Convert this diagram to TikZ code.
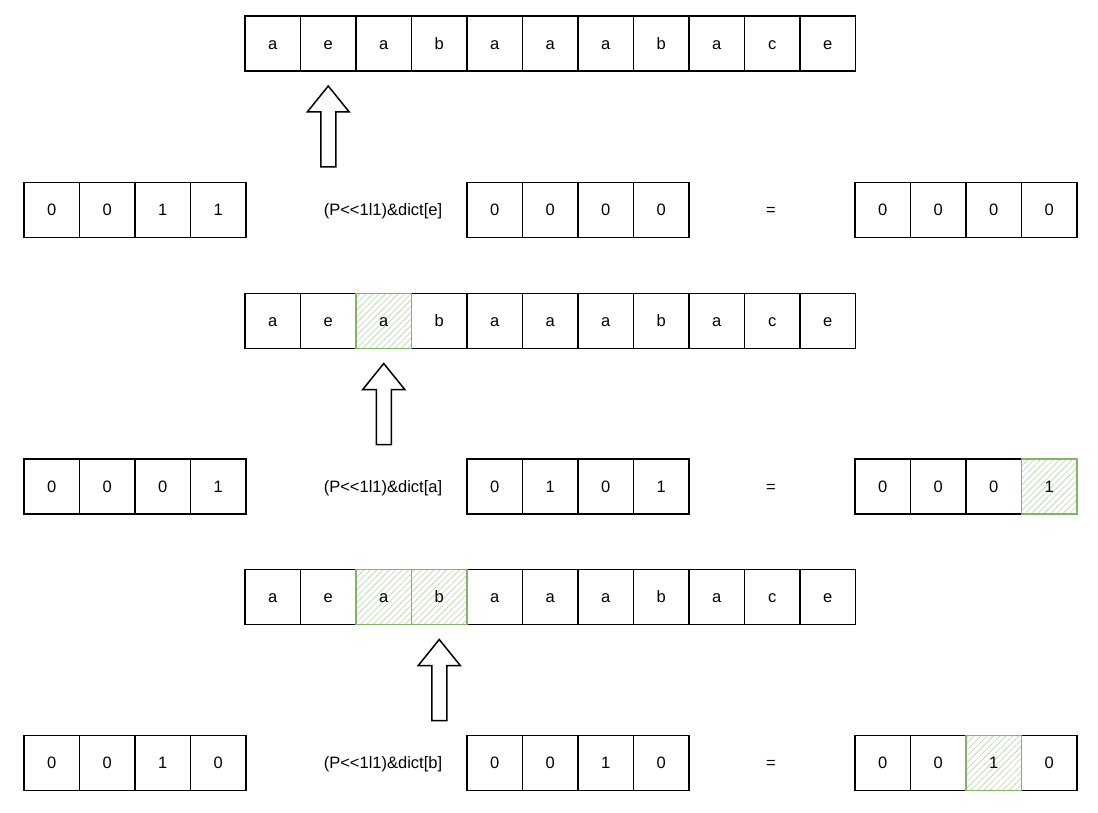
\documentclass[tikz,border=0pt]{standalone}
\usepackage{fontspec}
\setmainfont{Liberation Sans}[Ligatures=NoCommon]
\usetikzlibrary{patterns.meta,calc}
\definecolor{hlgreen}{HTML}{82B366}
\definecolor{hatchgreen}{HTML}{B5D4A5}
\tikzset{
  cell/.style={draw=black, line width=1.5pt, minimum width=55.5pt, minimum height=55pt,
    inner sep=0pt, outer sep=0pt, text height=11.8pt, text depth=0pt,
    font=\fontsize{16.5}{20}\selectfont, anchor=center},
  hlcell/.style={cell, draw=none, pattern={Lines[angle=45,distance=4.5pt,line width=0.6pt]},
    pattern color=hatchgreen},
  hlborder/.style={draw=hlgreen, line width=1.5pt},
  exprtext/.style={inner sep=0pt, text height=11.8pt, text depth=0pt, font=\fontsize{16.5}{20}\selectfont},
  blockarrow/.style={draw=black, line width=1.5pt, line join=miter, fill=white}
}
\begin{document}
\begin{tikzpicture}[x=1pt,y=-1pt]
\useasboundingbox (0,0) rectangle (1098,813);
% ---------- group 1 ----------
\foreach \ch [count=\i] in {a,e,a,b,a,a,a,b,a,c,e}
  \node[cell] (c1-\i) at ({245+55.5*(\i-0.5)},43.5) {\ch};
\foreach \b [count=\i] in {0,0,1,1}
  \node[cell] (p1-\i) at ({24+55.5*(\i-0.5)},210) {\b};
\node[exprtext] (e1) at (383,210) {(P<{}<1l1)\&dict[e]};
\foreach \b [count=\i] in {0,0,0,0}
  \node[cell] (d1-\i) at ({467+55.5*(\i-0.5)},210) {\b};
\node[exprtext] (q1) at (771,210) {=};
\foreach \b [count=\i] in {0,0,0,0}
  \node[cell] (r1-\i) at ({855+55.5*(\i-0.5)},210) {\b};
\draw[blockarrow] ($(c1-2.south)+(0,15)$) -- ++(21,26) -- ++(-13.5,0) -- ++(0,55)
  -- ++(-15,0) -- ++(0,-55) -- ++(-13.5,0) -- cycle;
% ---------- group 2 ----------
\foreach \ch/\st [count=\i] in {a/cell,e/cell,a/hlcell,b/cell,a/cell,a/cell,a/cell,b/cell,a/cell,c/cell,e/cell}
  \node[\st] (c2-\i) at ({245+55.5*(\i-0.5)},321) {\ch};
\draw[hlborder] (c2-3.south west) rectangle (c2-3.north east);
\foreach \b [count=\i] in {0,0,0,1}
  \node[cell] (p2-\i) at ({24+55.5*(\i-0.5)},486.5) {\b};
\node[exprtext] (e2) at (383,486.5) {(P<{}<1l1)\&dict[a]};
\foreach \b [count=\i] in {0,1,0,1}
  \node[cell] (d2-\i) at ({467+55.5*(\i-0.5)},486.5) {\b};
\node[exprtext] (q2) at (771,486.5) {=};
\foreach \b/\st [count=\i] in {0/cell,0/cell,0/cell,1/hlcell}
  \node[\st] (r2-\i) at ({855+55.5*(\i-0.5)},486.5) {\b};
\draw[hlborder] (r2-4.south west) rectangle (r2-4.north east);
\draw[blockarrow] ($(c2-3.south)+(0,15)$) -- ++(21,26) -- ++(-13.5,0) -- ++(0,55)
  -- ++(-15,0) -- ++(0,-55) -- ++(-13.5,0) -- cycle;
% ---------- group 3 ----------
\foreach \ch/\st [count=\i] in {a/cell,e/cell,a/hlcell,b/hlcell,a/cell,a/cell,a/cell,b/cell,a/cell,c/cell,e/cell}
  \node[\st] (c3-\i) at ({245+55.5*(\i-0.5)},597) {\ch};
\draw[hlborder] (c3-3.south west) rectangle (c3-4.north east);
\draw[hlborder] (c3-3.north east) -- (c3-3.south east);
\foreach \b [count=\i] in {0,0,1,0}
  \node[cell] (p3-\i) at ({24+55.5*(\i-0.5)},763) {\b};
\node[exprtext] (e3) at (383,763) {(P<{}<1l1)\&dict[b]};
\foreach \b [count=\i] in {0,0,1,0}
  \node[cell] (d3-\i) at ({467+55.5*(\i-0.5)},763) {\b};
\node[exprtext] (q3) at (771,763) {=};
\foreach \b/\st [count=\i] in {0/cell,0/cell,1/hlcell,0/cell}
  \node[\st] (r3-\i) at ({855+55.5*(\i-0.5)},763) {\b};
\draw[hlborder] (r3-3.south west) rectangle (r3-3.north east);
\draw[blockarrow] ($(c3-4.south)+(0,15)$) -- ++(21,26) -- ++(-13.5,0) -- ++(0,55)
  -- ++(-15,0) -- ++(0,-55) -- ++(-13.5,0) -- cycle;
\end{tikzpicture}
\end{document}
